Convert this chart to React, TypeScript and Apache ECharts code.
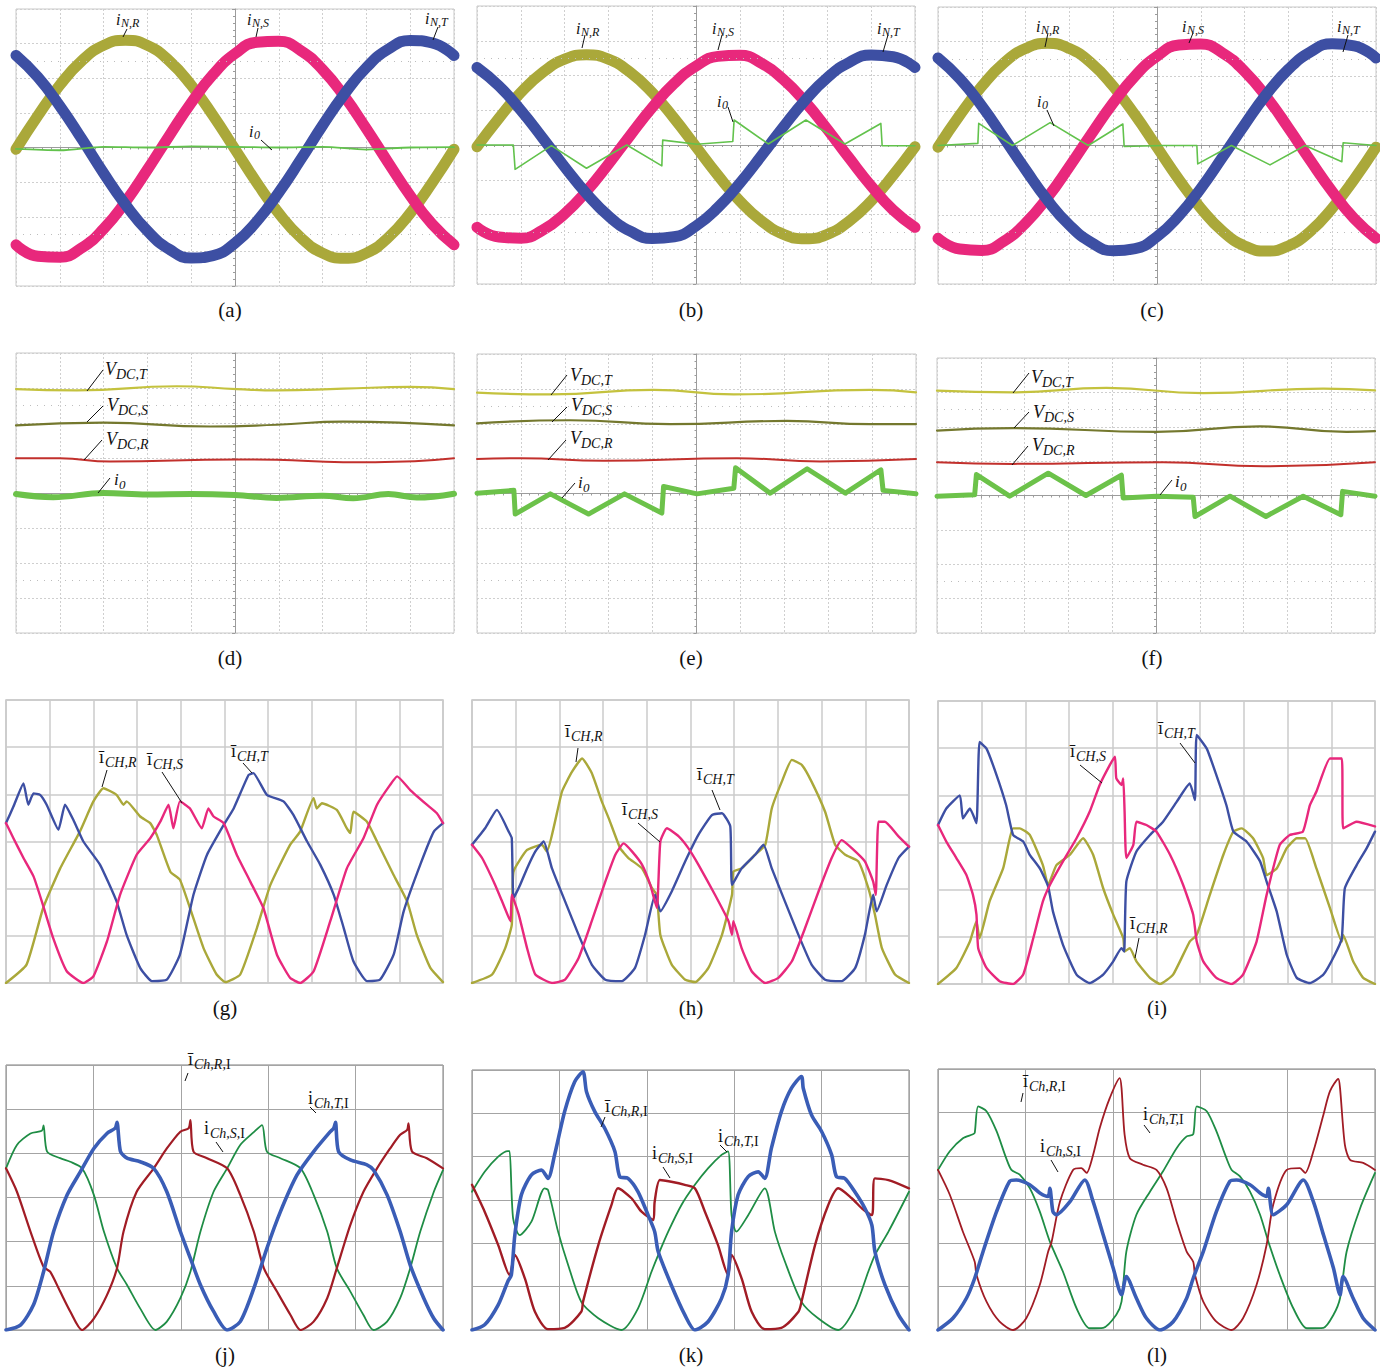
import React, { useEffect, useRef } from "react";
import * as echarts from "echarts";

const SERIF = "'Liberation Serif','Times New Roman',serif";

// ---------------- data (screen divisions) ----------------
const T21 = [0, 0.5, 1, 1.5, 2, 2.5, 3, 3.5, 4, 4.5, 5, 5.5, 6, 6.5, 7, 7.5, 8, 8.5, 9, 9.5, 10];

// (a) grid currents
const aNR = [-0.05, 0.92, 1.8, 2.5, 2.95, 3.1, 2.95, 2.5, 1.8, 0.92, -0.05, -1.02, -1.9, -2.6, -3.05, -3.2, -3.05, -2.6, -1.9, -1.02, -0.05];
const aNS = [-2.81, -3.14, -3.17, -2.9, -2.35, -1.57, -0.64, 0.34, 1.29, 2.11, 2.71, 3.04, 3.07, 2.8, 2.25, 1.47, 0.54, -0.44, -1.39, -2.21, -2.81];
const aNT = [2.66, 2.03, 1.2, 0.25, -0.74, -1.65, -2.41, -2.94, -3.19, -3.12, -2.76, -2.13, -1.3, -0.35, 0.64, 1.55, 2.31, 2.84, 3.09, 3.02, 2.66];
const aI0 = [[0, -0.04], [1, -0.08], [2, 0.02], [3, 0], [4, 0.03], [5, 0.02], [6, 0], [7, 0.02], [8, -0.06], [9, 0], [10, 0.01]];

// (b)
const bNR = [-0.05, 0.77, 1.51, 2.09, 2.47, 2.6, 2.47, 2.09, 1.51, 0.77, -0.05, -0.87, -1.61, -2.19, -2.57, -2.7, -2.57, -2.19, -1.61, -0.87, -0.05];
const bNS = [-2.37, -2.65, -2.68, -2.45, -1.98, -1.33, -0.55, 0.28, 1.08, 1.77, 2.27, 2.55, 2.58, 2.35, 1.88, 1.23, 0.45, -0.38, -1.18, -1.87, -2.37];
const bNT = [2.23, 1.7, 1.0, 0.2, -0.63, -1.4, -2.04, -2.48, -2.69, -2.64, -2.33, -1.8, -1.1, -0.3, 0.53, 1.3, 1.94, 2.38, 2.59, 2.54, 2.23];
const bI0 = [[0, 0], [0.83, 0], [0.87, -0.7], [1.7, -0.02], [2.5, -0.67], [3.42, 0], [4.22, -0.6], [4.24, 0.14], [5.02, 0.02], [5.84, 0.1], [5.87, 0.72], [6.65, 0.03], [7.51, 0.72], [8.4, 0.03], [9.22, 0.62], [9.25, -0.02], [10, -0.02]];

// (c)
const cNR = [-0.05, 0.88, 1.71, 2.38, 2.8, 2.95, 2.8, 2.38, 1.71, 0.88, -0.05, -0.98, -1.81, -2.48, -2.9, -3.05, -2.9, -2.48, -1.81, -0.98, -0.05];
const cNS = [-2.68, -2.99, -3.03, -2.77, -2.24, -1.5, -0.61, 0.33, 1.23, 2.01, 2.58, 2.9, 2.93, 2.67, 2.14, 1.4, 0.51, -0.43, -1.33, -2.11, -2.68];
const cNT = [2.53, 1.93, 1.14, 0.23, -0.7, -1.58, -2.3, -2.8, -3.04, -2.98, -2.63, -2.03, -1.24, -0.33, 0.6, 1.48, 2.2, 2.7, 2.94, 2.88, 2.53];
const cI0 = [[0, 0], [0.91, 0.06], [0.93, 0.64], [1.7, 0], [2.56, 0.66], [3.43, 0], [4.22, 0.62], [4.25, -0.03], [5.14, 0], [5.91, 0], [5.93, -0.53], [6.7, 0], [7.58, -0.56], [8.38, 0], [9.22, -0.47], [9.25, 0.08], [10, 0]];

// (d) DC voltages and i0
const dVT = [[0, 2.97], [1.39, 2.93], [3.67, 3.05], [5.04, 2.97], [5.95, 2.93], [7.47, 2.98], [9.0, 3.03], [10, 2.97]];
const dVS = [[0, 1.93], [2.0, 2.01], [4.43, 1.9], [5.95, 1.95], [7.47, 2.04], [10, 1.93]];
const dVR = [[0, 0.99], [1.0, 0.99], [2.15, 0.9], [5.04, 0.96], [5.95, 0.95], [7.47, 0.88], [8.2, 0.88], [10, 0.99]];
const dI0 = [[0, -0.03], [0.85, -0.12], [2.0, 0.0], [3, -0.04], [4, -0.03], [5, -0.06], [5.95, -0.14], [7, -0.08], [7.7, -0.15], [8.5, -0.03], [9.15, -0.13], [10, -0.02]];

// (e)
const eVT = [[0, 2.89], [1.67, 2.84], [4.02, 2.97], [5.85, 2.84], [8.96, 2.97], [10, 2.9]];
const eVS = [[0, 2.01], [2.13, 2.1], [4.4, 1.99], [7.06, 2.08], [8.96, 1.99], [10, 1.99]];
const eVR = [[0, 0.99], [0.99, 1.01], [2.89, 0.94], [5.92, 1.01], [7.82, 0.92], [10, 0.99]];
const eI0 = [[0, 0.01], [0.84, 0.09], [0.87, -0.59], [1.67, -0.01], [2.54, -0.59], [3.36, -0.01], [4.21, -0.56], [4.25, 0.2], [5.01, -0.01], [5.85, 0.15], [5.89, 0.74], [6.68, 0.01], [7.52, 0.71], [8.39, 0.01], [9.2, 0.68], [9.25, 0.09], [10, -0.01]];

// (f)
const fVT = [[0, 3.05], [1.74, 3.0], [3.87, 3.13], [6.08, 2.98], [8.82, 3.11], [10, 3.06]];
const fVS = [[0, 1.89], [1.74, 1.96], [5.01, 1.85], [7.37, 2.01], [9.35, 1.85], [10, 1.87]];
const fVR = [[0, 0.97], [1.74, 0.92], [5.16, 0.97], [7.45, 0.85], [10, 0.97]];
const fI0 = [[0, -0.02], [0.86, 0.02], [0.9, 0.61], [1.66, -0.02], [2.54, 0.65], [3.4, 0], [4.21, 0.59], [4.25, -0.07], [5.01, -0.02], [5.85, -0.05], [5.89, -0.61], [6.69, -0.02], [7.51, -0.61], [8.36, -0.02], [9.22, -0.56], [9.26, 0.12], [10, -0.02]];

// (g) average chopper currents
const gR = [[0, 0], [0.47, 0.39], [0.85, 1.59], [1.24, 2.43], [1.69, 3.21], [2.0, 3.85], [2.23, 4.13], [2.53, 3.99], [2.69, 3.78], [2.76, 3.85], [3.07, 3.53], [3.3, 3.39], [3.45, 3.14], [3.76, 2.36], [3.98, 2.19], [4.21, 1.59], [4.52, 0.74], [4.82, 0.18], [5.02, 0.02], [5.36, 0.18], [5.74, 1.16], [6.05, 2.08], [6.5, 2.93], [6.73, 3.21], [7.04, 3.92], [7.11, 3.7], [7.23, 3.81], [7.57, 3.67], [7.8, 3.28], [7.88, 3.18], [7.95, 3.63], [8.26, 3.42], [8.49, 3.0], [8.87, 2.29], [9.18, 1.73], [9.4, 1.02], [9.71, 0.32], [10, 0.02]];
const gS = [[0, 3.39], [0.17, 3.07], [0.4, 2.65], [0.63, 2.26], [0.82, 1.73], [1.08, 0.95], [1.39, 0.25], [1.77, 0], [2.0, 0.14], [2.31, 0.88], [2.61, 1.87], [2.99, 2.72], [3.3, 3.07], [3.53, 3.42], [3.72, 3.78], [3.83, 3.28], [3.98, 3.85], [4.21, 3.7], [4.48, 3.28], [4.63, 3.7], [4.75, 3.53], [4.98, 3.39], [5.28, 2.72], [5.59, 2.15], [5.89, 1.59], [6.2, 0.6], [6.5, 0.11], [6.73, 0], [7.04, 0.25], [7.42, 1.31], [7.8, 2.43], [8.18, 3.07], [8.49, 3.78], [8.79, 4.2], [8.95, 4.38], [9.25, 4.09], [9.63, 3.78], [9.86, 3.6], [10, 3.39]];
const gT = [[0, 3.39], [0.17, 3.74], [0.4, 4.23], [0.51, 3.78], [0.63, 4.02], [0.78, 3.99], [0.93, 3.78], [1.2, 3.25], [1.35, 3.78], [1.54, 3.46], [1.77, 3.0], [2.15, 2.51], [2.53, 1.73], [2.76, 1.02], [3.07, 0.32], [3.34, 0.04], [3.68, 0.07], [3.98, 0.6], [4.29, 1.87], [4.6, 2.72], [4.98, 3.35], [5.21, 3.7], [5.55, 4.41], [5.66, 4.45], [5.97, 3.99], [6.35, 3.85], [6.58, 3.56], [6.89, 3.0], [7.19, 2.51], [7.5, 1.87], [7.73, 1.16], [7.95, 0.46], [8.26, 0.04], [8.56, 0.07], [8.87, 0.6], [9.1, 1.52], [9.48, 2.51], [9.79, 3.21], [10, 3.39]];

// (h)
const hR = [[0, 0], [0.46, 0.18], [0.76, 0.74], [0.91, 1.23], [0.95, 2.36], [1.26, 2.82], [1.6, 2.93], [1.71, 2.79], [2.06, 4.06], [2.29, 4.48], [2.52, 4.76], [2.74, 4.45], [2.97, 3.85], [3.13, 3.49], [3.39, 2.86], [3.58, 2.65], [3.89, 2.43], [4.12, 2.01], [4.23, 1.87], [4.31, 1.02], [4.57, 0.39], [4.88, 0.07], [5.11, 0.02], [5.41, 0.32], [5.72, 1.02], [5.95, 1.87], [5.98, 2.36], [6.17, 2.43], [6.48, 2.72], [6.71, 2.93], [6.86, 3.7], [7.09, 4.27], [7.32, 4.73], [7.55, 4.62], [7.77, 4.27], [8.08, 3.63], [8.31, 2.93], [8.54, 2.72], [8.84, 2.58], [9.07, 2.01], [9.22, 1.45], [9.38, 0.74], [9.68, 0.18], [10, 0]];
const hS = [[0, 2.93], [0.23, 2.65], [0.53, 2.08], [0.72, 1.66], [0.88, 1.31], [0.91, 1.87], [1.07, 1.45], [1.26, 0.74], [1.45, 0.18], [1.83, 0], [2.13, 0.07], [2.44, 0.53], [2.74, 1.31], [3.05, 2.15], [3.28, 2.72], [3.47, 2.96], [3.66, 2.79], [3.89, 2.51], [4.08, 2.08], [4.23, 1.59], [4.31, 3.0], [4.46, 3.28], [4.73, 3.11], [4.95, 2.86], [5.18, 2.51], [5.56, 1.87], [5.87, 1.31], [5.95, 1.02], [5.98, 1.31], [6.17, 0.74], [6.4, 0.25], [6.71, 0], [7.01, 0.11], [7.32, 0.46], [7.62, 1.16], [7.93, 1.94], [8.23, 2.65], [8.46, 3.03], [8.69, 2.86], [8.99, 2.58], [9.18, 2.15], [9.24, 1.87], [9.3, 3.42], [9.45, 3.42], [9.76, 3.11], [10, 2.89]];
const hT = [[0, 2.93], [0.3, 3.28], [0.57, 3.67], [0.84, 3.21], [0.91, 3.07], [0.95, 1.8], [1.1, 2.08], [1.26, 2.43], [1.45, 2.79], [1.64, 3.0], [1.83, 2.43], [2.13, 1.73], [2.44, 1.02], [2.74, 0.39], [3.05, 0.07], [3.43, 0.04], [3.73, 0.32], [3.96, 1.02], [4.19, 1.87], [4.31, 1.52], [4.57, 1.94], [4.88, 2.58], [5.18, 3.14], [5.49, 3.56], [5.72, 3.6], [5.91, 3.32], [5.95, 2.08], [6.17, 2.43], [6.48, 2.72], [6.67, 2.93], [6.86, 2.43], [7.16, 1.73], [7.47, 1.02], [7.77, 0.39], [8.08, 0.07], [8.46, 0.04], [8.77, 0.32], [8.99, 1.02], [9.18, 1.87], [9.26, 1.52], [9.49, 2.08], [9.76, 2.65], [10, 2.89]];

// (i)
const iR = [[0, 0], [0.42, 0.34], [0.73, 0.9], [0.88, 1.33], [0.95, 0.97], [1.18, 1.75], [1.49, 2.45], [1.72, 3.3], [1.87, 3.3], [2.1, 3.16], [2.4, 2.52], [2.52, 2.1], [2.71, 2.52], [3.02, 2.74], [3.32, 3.09], [3.55, 2.74], [3.78, 2.03], [4.01, 1.47], [4.24, 0.97], [4.27, 0.69], [4.39, 0.76], [4.54, 0.48], [4.85, 0.13], [5.08, 0], [5.38, 0.2], [5.76, 0.9], [5.92, 1.04], [6.22, 1.89], [6.53, 2.74], [6.76, 3.23], [6.95, 3.3], [7.21, 3.09], [7.44, 2.67], [7.52, 2.31], [7.75, 2.45], [7.98, 2.88], [8.21, 3.09], [8.4, 3.09], [8.66, 2.45], [8.97, 1.61], [9.24, 0.9], [9.27, 1.04], [9.5, 0.48], [9.73, 0.13], [10, 0]];
const iS = [[0, 3.37], [0.19, 3.02], [0.42, 2.67], [0.65, 2.31], [0.8, 1.89], [0.88, 1.47], [0.92, 0.76], [1.11, 0.34], [1.41, 0.06], [1.72, 0], [1.95, 0.2], [2.18, 0.97], [2.4, 1.75], [2.56, 2.1], [2.86, 2.6], [3.17, 3.09], [3.47, 3.65], [3.7, 4.22], [3.93, 4.64], [4.05, 4.82], [4.08, 4.36], [4.2, 4.22], [4.24, 4.36], [4.27, 3.65], [4.31, 2.67], [4.47, 2.95], [4.54, 3.44], [4.77, 3.37], [5.0, 3.23], [5.31, 2.74], [5.61, 2.1], [5.84, 1.47], [5.92, 0.9], [6.07, 0.48], [6.37, 0.13], [6.72, 0], [6.98, 0.2], [7.29, 0.9], [7.52, 1.89], [7.82, 2.95], [8.05, 3.16], [8.35, 3.23], [8.51, 3.79], [8.66, 4.08], [8.97, 4.78], [9.24, 4.78], [9.27, 3.3], [9.58, 3.44], [10, 3.34]];
const iT = [[0, 3.37], [0.19, 3.72], [0.5, 4.0], [0.57, 3.51], [0.73, 3.72], [0.88, 3.41], [0.95, 5.13], [1.11, 4.99], [1.34, 4.43], [1.56, 3.79], [1.72, 3.16], [1.95, 3.02], [2.1, 2.74], [2.33, 2.45], [2.52, 2.07], [2.63, 1.54], [2.86, 0.83], [3.17, 0.2], [3.47, 0.02], [3.78, 0.2], [4.01, 0.48], [4.2, 0.76], [4.26, 0.69], [4.31, 2.17], [4.54, 2.81], [4.85, 3.16], [5.15, 3.44], [5.46, 3.86], [5.76, 4.25], [5.88, 3.9], [5.92, 5.28], [6.15, 4.99], [6.37, 4.43], [6.6, 3.79], [6.76, 3.23], [7.06, 3.02], [7.37, 2.6], [7.52, 2.17], [7.75, 1.54], [7.98, 0.62], [8.21, 0.13], [8.51, 0.02], [8.82, 0.2], [9.08, 0.62], [9.24, 0.97], [9.31, 2.03], [9.58, 2.52], [9.81, 2.88], [10, 3.23]];

// (j) simulated chopper currents
const jR = [[0, 0], [0.33, 0.11], [0.63, 0.57], [0.86, 1.32], [1.09, 2.23], [1.4, 3.06], [1.7, 3.58], [2.01, 4.11], [2.31, 4.45], [2.5, 4.57], [2.54, 4.7], [2.62, 4.04], [2.77, 3.89], [3.07, 3.81], [3.38, 3.66], [3.68, 3.13], [3.99, 2.23], [4.22, 1.62], [4.45, 1.02], [4.75, 0.42], [5.06, 0], [5.36, 0.19], [5.67, 0.94], [5.97, 1.85], [6.28, 2.68], [6.66, 3.51], [7.04, 4.04], [7.42, 4.49], [7.5, 4.57], [7.54, 4.7], [7.61, 4.04], [7.88, 3.85], [8.26, 3.74], [8.41, 3.62], [8.72, 3.06], [9.02, 2.23], [9.25, 1.47], [9.56, 0.72], [9.79, 0.26], [10, 0]];
const jS = [[0, 3.66], [0.25, 3.13], [0.56, 2.23], [0.86, 1.43], [1.01, 1.32], [1.24, 0.87], [1.47, 0.42], [1.74, 0], [2.01, 0.26], [2.31, 0.79], [2.54, 1.4], [2.69, 2.23], [2.99, 3.13], [3.38, 3.66], [3.68, 4.11], [3.99, 4.49], [4.18, 4.57], [4.22, 4.75], [4.29, 4.04], [4.6, 3.89], [5.06, 3.66], [5.36, 3.06], [5.67, 2.23], [5.9, 1.4], [6.2, 0.87], [6.51, 0.34], [6.74, 0], [7.04, 0.19], [7.35, 0.72], [7.57, 1.4], [7.88, 2.38], [8.18, 3.13], [8.49, 3.66], [8.79, 4.11], [9.02, 4.42], [9.18, 4.53], [9.21, 4.68], [9.29, 4.04], [9.63, 3.89], [10, 3.66]];
const jT = [[0, 3.66], [0.25, 4.19], [0.56, 4.45], [0.82, 4.51], [0.86, 4.63], [0.94, 4.04], [1.24, 3.89], [1.47, 3.81], [1.74, 3.66], [2.01, 3.06], [2.24, 2.23], [2.54, 1.4], [2.77, 1.02], [3.07, 0.49], [3.42, 0], [3.68, 0.19], [3.99, 0.72], [4.22, 1.32], [4.45, 2.23], [4.75, 3.13], [5.06, 3.66], [5.36, 4.19], [5.67, 4.48], [5.86, 4.64], [5.97, 4.04], [6.28, 3.89], [6.74, 3.66], [7.04, 3.06], [7.35, 2.23], [7.57, 1.4], [7.88, 0.87], [8.18, 0.34], [8.41, 0], [8.72, 0.19], [9.02, 0.72], [9.25, 1.4], [9.48, 2.23], [9.79, 3.13], [10, 3.62]];

// (k)
const kR = [[0, 0], [0.29, 0.12], [0.6, 0.58], [0.82, 1.12], [0.9, 1.27], [0.98, 2.19], [1.13, 3.12], [1.36, 3.58], [1.59, 3.69], [1.74, 3.5], [1.89, 4.04], [2.12, 5.04], [2.35, 5.73], [2.54, 5.96], [2.62, 5.5], [2.81, 5.04], [3.04, 4.65], [3.27, 4.12], [3.38, 3.54], [3.57, 3.5], [3.8, 3.19], [4.03, 2.65], [4.18, 2.27], [4.26, 1.81], [4.56, 1.04], [4.87, 0.35], [5.1, 0], [5.4, 0.19], [5.71, 0.73], [5.86, 1.27], [5.94, 2.27], [6.09, 3.12], [6.32, 3.54], [6.55, 3.65], [6.7, 3.5], [6.85, 4.19], [7.08, 5.04], [7.31, 5.58], [7.54, 5.85], [7.58, 5.58], [7.77, 4.96], [8.0, 4.58], [8.23, 4.04], [8.34, 3.54], [8.53, 3.5], [8.76, 3.19], [8.99, 2.81], [9.15, 2.42], [9.22, 1.81], [9.45, 1.04], [9.76, 0.35], [10, 0]];
const kS = [[0, 3.35], [0.29, 2.73], [0.6, 1.96], [0.86, 1.27], [0.98, 1.73], [1.21, 1.19], [1.44, 0.42], [1.74, 0.02], [2.12, 0.05], [2.5, 0.42], [2.54, 0.65], [2.89, 1.96], [3.19, 2.88], [3.34, 3.27], [3.65, 3.04], [3.88, 2.73], [4.15, 2.54], [4.18, 2.96], [4.3, 3.46], [4.56, 3.42], [4.87, 3.35], [5.1, 3.27], [5.33, 2.73], [5.63, 1.96], [5.86, 1.27], [5.94, 1.73], [6.17, 1.19], [6.4, 0.42], [6.7, 0.02], [7.08, 0.05], [7.47, 0.42], [7.54, 0.65], [7.85, 1.96], [8.15, 2.88], [8.38, 3.27], [8.69, 3.04], [8.92, 2.81], [9.15, 2.65], [9.22, 3.5], [9.53, 3.46], [10, 3.27]];
const kT = [[0, 3.19], [0.29, 3.65], [0.6, 4.0], [0.82, 4.13], [0.86, 4.13], [0.94, 2.58], [1.09, 2.19], [1.36, 2.5], [1.66, 3.27], [1.74, 3.23], [1.97, 2.27], [2.2, 1.5], [2.5, 0.65], [2.89, 0.27], [3.42, 0], [3.8, 0.5], [4.11, 1.35], [4.26, 1.73], [4.49, 2.27], [4.79, 2.88], [5.1, 3.35], [5.4, 3.73], [5.71, 4.04], [5.86, 4.12], [5.94, 2.65], [6.05, 2.27], [6.32, 2.65], [6.7, 3.27], [6.93, 2.27], [7.16, 1.58], [7.54, 0.65], [7.92, 0.27], [8.38, 0], [8.76, 0.5], [9.07, 1.35], [9.22, 1.73], [9.53, 2.27], [10, 3.19]];

// (l)
const lR = [[0, 0], [0.34, 0.27], [0.65, 0.73], [0.84, 1.19], [1.03, 1.8], [1.34, 2.72], [1.64, 3.42], [1.79, 3.45], [2.1, 3.34], [2.33, 3.15], [2.52, 3.07], [2.56, 3.26], [2.63, 2.72], [2.71, 2.65], [3.02, 2.95], [3.36, 3.45], [3.55, 2.95], [3.78, 2.19], [4.01, 1.42], [4.2, 0.81], [4.31, 1.23], [4.54, 0.73], [4.77, 0.27], [5.08, 0], [5.38, 0.19], [5.69, 0.73], [5.84, 1.19], [6.07, 1.8], [6.37, 2.72], [6.68, 3.42], [6.83, 3.45], [7.14, 3.34], [7.37, 3.15], [7.52, 3.07], [7.56, 3.26], [7.67, 2.65], [7.98, 2.88], [8.36, 3.45], [8.59, 2.95], [8.82, 2.19], [9.05, 1.42], [9.2, 0.81], [9.27, 1.23], [9.5, 0.73], [9.73, 0.27], [10, 0]];
const lS = [[0, 3.68], [0.27, 3.11], [0.57, 2.26], [0.84, 1.57], [0.88, 1.27], [1.11, 0.65], [1.41, 0.19], [1.72, 0], [2.02, 0.27], [2.33, 1.04], [2.52, 1.8], [2.6, 2.03], [2.79, 2.95], [3.09, 3.68], [3.28, 3.72], [3.4, 3.61], [3.55, 4.03], [3.7, 4.64], [3.93, 5.33], [4.16, 5.79], [4.2, 5.56], [4.27, 4.49], [4.39, 3.95], [4.69, 3.8], [5.0, 3.68], [5.23, 3.26], [5.46, 2.49], [5.69, 1.8], [5.84, 1.57], [5.88, 1.27], [6.07, 0.65], [6.37, 0.19], [6.72, 0], [6.98, 0.27], [7.29, 1.04], [7.52, 1.96], [7.67, 2.88], [7.98, 3.68], [8.28, 3.72], [8.4, 3.61], [8.59, 4.11], [8.82, 4.95], [8.97, 5.49], [9.16, 5.77], [9.2, 5.56], [9.31, 4.26], [9.43, 3.91], [9.73, 3.84], [10, 3.68]];
const lT = [[0, 3.68], [0.27, 4.11], [0.57, 4.41], [0.8, 4.5], [0.84, 4.53], [0.92, 5.14], [1.11, 5.03], [1.34, 4.57], [1.56, 3.95], [1.68, 3.68], [1.87, 3.57], [2.1, 3.26], [2.33, 2.72], [2.56, 2.03], [2.86, 1.34], [3.17, 0.5], [3.47, 0.04], [3.78, 0.05], [4.08, 0.35], [4.2, 0.65], [4.31, 1.8], [4.54, 2.65], [4.85, 3.18], [5.15, 3.65], [5.46, 4.18], [5.69, 4.45], [5.84, 4.5], [5.92, 5.14], [6.15, 5.03], [6.37, 4.57], [6.6, 3.95], [6.72, 3.68], [6.91, 3.53], [7.14, 3.18], [7.37, 2.65], [7.56, 2.03], [7.82, 1.27], [8.13, 0.5], [8.44, 0.04], [8.82, 0.05], [9.05, 0.35], [9.2, 0.73], [9.35, 1.8], [9.66, 2.8], [10, 3.61]];

// ---------------- styling / layout ----------------
const C = {
  olive: "#aaa83a", pink: "#e8287c", blue: "#3d4fa3", lime: "#62c24c",
  vt: "#c4c23e", vs: "#74782e", vr: "#c2302c", i0: "#6cc24a",
  sBlue: "#3a5db6", sRed: "#a11c25", sGreen: "#1f8d45",
};

const pts = (xs: number[], ys: number[]) => ys.map((y, i) => [xs[i], y]);

type S = { name: string; data: number[][]; color: string; width: number; smooth: number };
type P = { kind: "scope" | "avg" | "sim"; box: number[]; cap: [string, number, number]; series: S[] };

const sc = (name: string, data: number[][], color: string, width: number, smooth = 0): S => ({ name, data, color, width, smooth });

const PANELS: P[] = [
  { kind: "scope", box: [16, 9, 438, 277], cap: ["(a)", 230, 310], series: [sc("iN,R", pts(T21, aNR), C.olive, 11, 0.5), sc("iN,S", pts(T21, aNS), C.pink, 11, 0.5), sc("iN,T", pts(T21, aNT), C.blue, 11, 0.5), sc("i0", aI0, C.lime, 1.8, 0.3)] },
  { kind: "scope", box: [477, 6, 438, 278], cap: ["(b)", 691, 310], series: [sc("iN,R", pts(T21, bNR), C.olive, 11, 0.5), sc("iN,S", pts(T21, bNS), C.pink, 11, 0.5), sc("iN,T", pts(T21, bNT), C.blue, 11, 0.5), sc("i0", bI0, C.lime, 1.6)] },
  { kind: "scope", box: [938, 7, 438, 277], cap: ["(c)", 1152, 310], series: [sc("iN,R", pts(T21, cNR), C.olive, 11, 0.5), sc("iN,S", pts(T21, cNS), C.pink, 11, 0.5), sc("iN,T", pts(T21, cNT), C.blue, 11, 0.5), sc("i0", cI0, C.lime, 1.6)] },
  { kind: "scope", box: [16, 353, 438, 280], cap: ["(d)", 230, 658], series: [sc("VDC,T", dVT, C.vt, 2.2, 0.5), sc("VDC,S", dVS, C.vs, 2.2, 0.5), sc("VDC,R", dVR, C.vr, 2, 0.5), sc("i0", dI0, C.i0, 6, 0.4)] },
  { kind: "scope", box: [477, 354, 439, 279], cap: ["(e)", 691, 658], series: [sc("VDC,T", eVT, C.vt, 2.2, 0.5), sc("VDC,S", eVS, C.vs, 2.2, 0.5), sc("VDC,R", eVR, C.vr, 2, 0.5), sc("i0", eI0, C.i0, 5)] },
  { kind: "scope", box: [937, 358, 438, 275], cap: ["(f)", 1152, 658], series: [sc("VDC,T", fVT, C.vt, 2.2, 0.5), sc("VDC,S", fVS, C.vs, 2.2, 0.5), sc("VDC,R", fVR, C.vr, 2, 0.5), sc("i0", fI0, C.i0, 5)] },
  { kind: "avg", box: [6, 700, 437, 283], cap: ["(g)", 225, 1008], series: [sc("iCH,R", gR, C.olive, 2.4, 0.15), sc("iCH,T", gT, C.blue, 2.4, 0.15), sc("iCH,S", gS, C.pink, 2.4, 0.15)] },
  { kind: "avg", box: [472, 700, 437, 283], cap: ["(h)", 691, 1008], series: [sc("iCH,R", hR, C.olive, 2.4, 0.15), sc("iCH,T", hT, C.blue, 2.4, 0.15), sc("iCH,S", hS, C.pink, 2.4, 0.15)] },
  { kind: "avg", box: [938, 701, 437, 283], cap: ["(i)", 1157, 1008], series: [sc("iCH,R", iR, C.olive, 2.4, 0.15), sc("iCH,T", iT, C.blue, 2.4, 0.15), sc("iCH,S", iS, C.pink, 2.4, 0.15)] },
  { kind: "sim", box: [6, 1065, 437, 265], cap: ["(j)", 225, 1355], series: [sc("iCh,T,I", jT, C.sGreen, 1.8, 0.25), sc("iCh,S,I", jS, C.sRed, 2.2, 0.25), sc("iCh,R,I", jR, C.sBlue, 3.6, 0.25)] },
  { kind: "sim", box: [472, 1070, 437, 260], cap: ["(k)", 691, 1355], series: [sc("iCh,T,I", kT, C.sGreen, 1.8, 0.25), sc("iCh,S,I", kS, C.sRed, 2.4, 0.25), sc("iCh,R,I", kR, C.sBlue, 3.6, 0.25)] },
  { kind: "sim", box: [938, 1069, 437, 261], cap: ["(l)", 1157, 1355], series: [sc("iCh,T,I", lT, C.sGreen, 1.8, 0.25), sc("iCh,S,I", lS, C.sRed, 1.8, 0.25), sc("iCh,R,I", lR, C.sBlue, 3.6, 0.25)] },
];

// annotation labels: [x, y, main, sub, style]
type L = [number, number, string, string, string];
const LABELS: L[] = [
  [116, 11, "i", "N,R", "N"], [247, 11, "i", "N,S", "N"], [425, 10, "i", "N,T", "N"], [249, 123, "i", "0", "N"],
  [576, 20, "i", "N,R", "N"], [712, 20, "i", "N,S", "N"], [877, 20, "i", "N,T", "N"], [717, 93, "i", "0", "N"],
  [1036, 18, "i", "N,R", "N"], [1182, 18, "i", "N,S", "N"], [1337, 18, "i", "N,T", "N"], [1037, 93, "i", "0", "N"],
  [105, 360, "V", "DC,T", "V"], [107, 396, "V", "DC,S", "V"], [106, 430, "V", "DC,R", "V"], [114, 471, "i", "0", "I0"],
  [570, 366, "V", "DC,T", "V"], [571, 396, "V", "DC,S", "V"], [570, 429, "V", "DC,R", "V"], [578, 474, "i", "0", "I0"],
  [1031, 368, "V", "DC,T", "V"], [1033, 403, "V", "DC,S", "V"], [1032, 436, "V", "DC,R", "V"], [1175, 473, "i", "0", "I0"],
  [99, 748, "ī", "CH,R", "CH"], [147, 750, "ī", "CH,S", "CH"], [231, 742, "ī", "CH,T", "CH"],
  [565, 722, "ī", "CH,R", "CH"], [697, 765, "ī", "CH,T", "CH"], [622, 800, "ī", "CH,S", "CH"],
  [1070, 742, "ī", "CH,S", "CH"], [1158, 719, "ī", "CH,T", "CH"], [1130, 914, "ī", "CH,R", "CH"],
  [188, 1050, "ī", "Ch,R,", "Ch"], [308, 1089, "i", "Ch,T,", "Ch"], [204, 1119, "i", "Ch,S,", "Ch"],
  [605, 1097, "ī", "Ch,R,", "Ch"], [718, 1127, "i", "Ch,T,", "Ch"], [652, 1144, "i", "Ch,S,", "Ch"],
  [1023, 1072, "ī", "Ch,R,", "Ch"], [1143, 1105, "i", "Ch,T,", "Ch"], [1040, 1137, "i", "Ch,S,", "Ch"],
];
const LEADERS: number[][] = [
  [127, 29, 123, 37], [258, 28, 256, 37], [438, 27, 433, 40], [261, 140, 272, 150],
  [585, 35, 582, 48], [722, 35, 718, 50], [888, 35, 883, 52], [728, 107, 733, 122],
  [1048, 33, 1045, 47], [1193, 33, 1189, 43], [1348, 35, 1343, 52], [1047, 110, 1054, 126],
  [103, 370, 87, 391], [103, 406, 87, 422], [102, 440, 84, 460], [110, 478, 98, 493],
  [567, 375, 551, 395], [567, 407, 552, 422], [566, 440, 548, 460], [575, 483, 562, 498],
  [1029, 373, 1013, 393], [1029, 412, 1014, 428], [1028, 446, 1012, 465], [1172, 480, 1160, 495],
  [107, 770, 102, 787], [162, 772, 182, 803], [243, 763, 252, 773],
  [578, 748, 576, 762], [712, 790, 720, 810], [638, 823, 660, 842],
  [1080, 765, 1102, 783], [1180, 743, 1195, 763], [1139, 938, 1135, 958],
  [188, 1073, 185, 1081], [310, 1107, 316, 1113], [216, 1142, 223, 1152],
  [605, 1117, 601, 1127], [720, 1145, 727, 1152], [663, 1167, 670, 1178],
  [1023, 1093, 1021, 1102], [1144, 1125, 1150, 1133], [1051, 1160, 1058, 1172],
];

const LSTYLE: Record<string, { m: number; s: number; dx: number; dy: number; mi: boolean }> = {
  N: { m: 16, s: 12, dx: 5, dy: 6, mi: true },
  V: { m: 18, s: 14, dx: 11, dy: 7, mi: true },
  I0: { m: 17, s: 13, dx: 5, dy: 7, mi: true },
  CH: { m: 18, s: 14, dx: 6, dy: 7, mi: false },
  Ch: { m: 18, s: 14, dx: 6, dy: 7, mi: false },
};

function txt(x: number, y: number, text: string, size: number, italic: boolean, extra: any = {}) {
  return {
    type: "text", x, y, z: 100, silent: true,
    style: {
      text, fontSize: size, fontFamily: SERIF, fontStyle: italic ? "italic" : "normal", fill: "#111",
      align: "left", verticalAlign: "top", textAlign: "left", textVerticalAlign: "top", ...extra,
    },
  };
}

function buildOption() {
  const grid: any[] = [], xAxis: any[] = [], yAxis: any[] = [], series: any[] = [];
  const tickCol = "#9c9c9c";
  PANELS.forEach((p) => {
    const gi = grid.length;
    const [l, t, w, h] = p.box;
    const scope = p.kind === "scope";
    grid.push({
      left: l, top: t, width: w, height: h, show: true, containLabel: false,
      borderColor: scope ? "#c9c9c9" : p.kind === "avg" ? "#c6c6c6" : "#7d7d7d",
      borderWidth: p.kind === "avg" ? 1.5 : 1, backgroundColor: "transparent",
    });
    const split = scope
      ? { show: true, lineStyle: { color: "#cfcfcf", width: 1, type: [2, 2] } }
      : p.kind === "avg"
        ? { show: true, lineStyle: { color: "#cbcbcb", width: 1.5 } }
        : { show: true, lineStyle: { color: "#a4a4a4", width: 1 } };
    const xi = xAxis.length;
    xAxis.push({
      type: "value", gridIndex: gi, min: 0, max: 10, interval: p.kind === "sim" ? 2 : 1,
      axisLabel: { show: false }, splitLine: split,
      axisLine: scope ? { show: true, onZero: true, lineStyle: { color: tickCol, width: 1 } } : { show: false },
      axisTick: scope ? { show: true, length: 3, lineStyle: { color: tickCol } } : { show: false },
      minorTick: scope ? { show: true, splitNumber: 5, length: 2, lineStyle: { color: tickCol } } : { show: false },
    });
    const yi = yAxis.length;
    yAxis.push({
      type: "value", gridIndex: gi, min: scope ? -4 : 0, max: scope ? 4 : 6, interval: 1,
      axisLabel: { show: false }, axisLine: { show: false }, axisTick: { show: false }, splitLine: split,
    });
    if (scope) {
      yAxis.push({
        type: "value", gridIndex: gi, min: -4, max: 4, interval: 1, position: "left", offset: -w / 2,
        axisLabel: { show: false }, splitLine: { show: false },
        axisLine: { show: true, onZero: false, lineStyle: { color: tickCol, width: 1 } },
        axisTick: { show: true, length: 3, lineStyle: { color: tickCol } },
        minorTick: { show: true, splitNumber: 5, length: 2, lineStyle: { color: tickCol } },
      });
    }
    p.series.forEach((s, k) => {
      series.push({
        type: "line", name: s.name, xAxisIndex: xi, yAxisIndex: yi, data: s.data,
        symbol: "none", showSymbol: false, smooth: s.smooth, silent: true,
        lineStyle: { color: s.color, width: s.width, cap: "round", join: "round" },
        itemStyle: { color: s.color }, z: 3 + k,
        markLine: scope && k === 0 ? {
          silent: true, symbol: ["none", "none"], label: { show: false },
          lineStyle: { color: "#bdbdbd", width: 1, type: [1, 6] },
          data: [{ yAxis: 2.5 }, { yAxis: -2.5 }],
        } : undefined,
      });
    });
  });

  const elements: any[] = [];
  LABELS.forEach(([x, y, main, sub, st]) => {
    const c = LSTYLE[st];
    elements.push(txt(x, y, main, c.m, c.mi));
    if (st === "Ch") {
      elements.push(txt(x + c.dx, y + c.dy, `{a|${sub}}{b|I}`, c.s, true, {
        rich: {
          a: { fontSize: c.s, fontFamily: SERIF, fontStyle: "italic", fill: "#111" },
          b: { fontSize: c.s, fontFamily: SERIF, fontStyle: "normal", fill: "#111" },
        },
      }));
    } else {
      elements.push(txt(x + c.dx, y + c.dy, sub, c.s, true));
    }
  });
  LEADERS.forEach(([x1, y1, x2, y2]) => {
    elements.push({ type: "line", z: 100, silent: true, shape: { x1, y1, x2, y2 }, style: { stroke: "#111", lineWidth: 1 } });
  });
  PANELS.forEach((p) => {
    const [text, x, y] = p.cap;
    elements.push({
      type: "text", x, y, z: 100, silent: true,
      style: { text, fontSize: 21, fontFamily: SERIF, fill: "#111", align: "center", verticalAlign: "middle", textAlign: "center", textVerticalAlign: "middle" },
    });
  });

  return {
    animation: false,
    backgroundColor: "#ffffff",
    grid, xAxis, yAxis, series,
    graphic: { elements },
  };
}

export default function App() {
  const ref = useRef<HTMLDivElement>(null);
  useEffect(() => {
    document.body.style.margin = "0";
    const chart = echarts.init(ref.current!, null, { renderer: "svg" });
    chart.setOption(buildOption() as any);
    return () => chart.dispose();
  }, []);
  return (
    <div
      ref={ref}
      style={{ position: "absolute", left: 0, top: 0, width: 1380, height: 1368, background: "#fff" }}
    />
  );
}
